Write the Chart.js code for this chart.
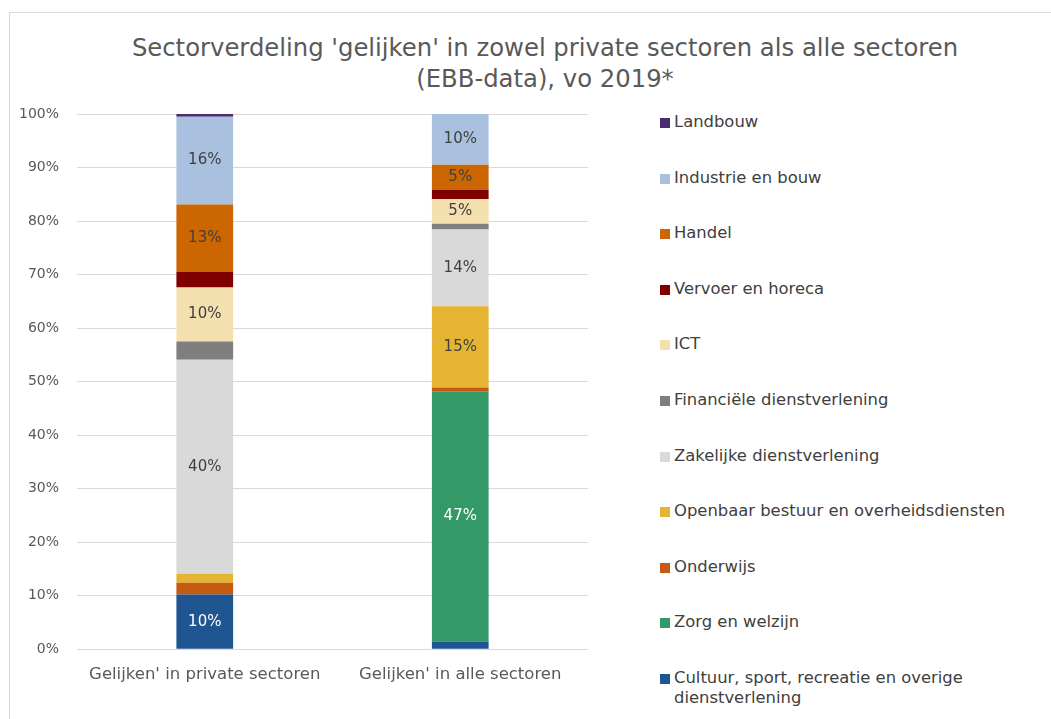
<!DOCTYPE html>
<html>
<head>
<meta charset="utf-8">
<script src="https://cdn.jsdelivr.net/npm/chart.js@4.4.1/dist/chart.umd.min.js"></script>
<style>
  html, body { margin: 0; padding: 0; background: #fff; }
  body { width: 1051px; height: 719px; position: relative; overflow: hidden; font-family: "DejaVu Sans", sans-serif; }
  #frame { position: absolute; left: 9px; top: 12px; width: 1100px; height: 800px; border: 1px solid #d9d9d9; }
  #title { position: absolute; left: 45px; width: 1000px; top: 32px; text-align: center; font-size: 24.3px; line-height: 31px; color: #595959; }
  #chartWrap { position: absolute; left: 0; top: 0; width: 620px; height: 719px; }
  #legend { position: absolute; left: 660px; top: 112px; width: 390px; }
  .lg-item { position: relative; height: 55.6px; font-size: 16.4px; line-height: 20px; color: #404040; }
  .lg-box { position: absolute; left: 0; top: 6px; width: 10px; height: 10px; }
  .lg-text { position: absolute; left: 14px; top: 0; white-space: nowrap; }
</style>
</head>
<body>
<div id="frame"></div>
<div id="title">Sectorverdeling 'gelijken' in zowel private sectoren als alle sectoren<br>(EBB-data), vo 2019*</div>
<div id="chartWrap"><canvas id="chartSector"></canvas></div>
<div id="legend"></div>

<script>
// ================== DATA ================ //
const CATEGORIES = ["Gelijken' in private sectoren", "Gelijken' in alle sectoren"];

// van onder naar boven gestapeld
const SECTOREN = [
  "Cultuur, sport, recreatie en overige dienstverlening",
  "Zorg en welzijn",
  "Onderwijs",
  "Openbaar bestuur en overheidsdiensten",
  "Zakelijke dienstverlening",
  "Financiële dienstverlening",
  "ICT",
  "Vervoer en horeca",
  "Handel",
  "Industrie en bouw",
  "Landbouw",
];

const PRIVATE_WAARDEN = [10.2, 0, 2.2, 1.7, 40.0, 3.4, 10.1, 2.9, 12.6, 16.4, 0.5];
const ALLE_WAARDEN = [1.4, 46.8, 0.7, 15.2, 14.3, 1.1, 4.6, 1.7, 4.7, 9.5, 0];

const COLORS = [
  "#1f5591", "#339966", "#c55a11", "#e4b432", "#d9d9d9",
  "#7f7f7f", "#f4e0ae", "#7f0000", "#cc6600", "#a9c1de", "#4b2c6e",
];
const LABEL_COLORS = [
  "#ffffff", "#ffffff", "#404040", "#404040", "#404040",
  "#404040", "#404040", "#404040", "#404040", "#404040", "#404040",
];

const Y_TICKS_STEP = 10;
const LABEL_MIN = 4.5;

// ================== LABEL PLUGIN ================ //
const barLabels = {
  id: "barLabels",
  afterDatasetsDraw(chart) {
    const ctx = chart.ctx;
    ctx.save();
    ctx.font = '15px "DejaVu Sans", sans-serif';
    ctx.textAlign = "center";
    ctx.textBaseline = "middle";
    chart.data.datasets.forEach((ds, i) => {
      const meta = chart.getDatasetMeta(i);
      meta.data.forEach((bar, j) => {
        const v = ds.data[j];
        if (v < LABEL_MIN) return;
        ctx.fillStyle = LABEL_COLORS[i];
        ctx.fillText(Math.round(v) + "%", bar.x, (bar.y + bar.base) / 2);
      });
    });
    ctx.restore();
  },
};

// ================== CHART ================ //
function renderChartSector() {
  const canvas = document.getElementById("chartSector");
  if (!canvas) return;

  const datasets = SECTOREN.map((s, i) => ({
    label: s,
    data: [PRIVATE_WAARDEN[i], ALLE_WAARDEN[i]],
    backgroundColor: COLORS[i],
    borderWidth: 0,
    categoryPercentage: 1,
    barPercentage: 0.222,
  }));

  const chart = new Chart(canvas, {
    type: "bar",
    data: { labels: CATEGORIES, datasets },
    plugins: [barLabels],
    options: {
      responsive: true,
      maintainAspectRatio: false,
      animation: false,
      layout: { padding: { top: 114, bottom: 26, left: 1, right: 32 } },
      plugins: {
        legend: { display: false },
        tooltip: { enabled: false },
      },
      scales: {
        x: {
          stacked: true,
          grid: { display: false },
          border: { display: false },
          ticks: { color: "#595959", font: { family: "DejaVu Sans", size: 16.5 }, padding: 8 },
        },
        y: {
          stacked: true,
          min: 0,
          max: 100,
          grid: { color: "#d9d9d9", lineWidth: 1, drawTicks: false },
          border: { display: false },
          ticks: {
            stepSize: Y_TICKS_STEP,
            color: "#595959",
            font: { family: "DejaVu Sans", size: 14 },
            padding: 18,
            callback: (v) => v + "%",
          },
        },
      },
    },
  });

  renderLegend(chart);
}

function renderLegend(chart) {
  const el = document.getElementById("legend");
  const items = chart.data.datasets.map((ds) => ({ label: ds.label, color: ds.backgroundColor })).reverse();
  items.forEach((it) => {
    const text = it.label.replace("recreatie en overige ", "recreatie en overige<br>");
    el.innerHTML += `<div class="lg-item"><span class="lg-box" style="background:${it.color}"></span><span class="lg-text">${text}</span></div>`;
  });
}

renderChartSector();
</script>
</body>
</html>
